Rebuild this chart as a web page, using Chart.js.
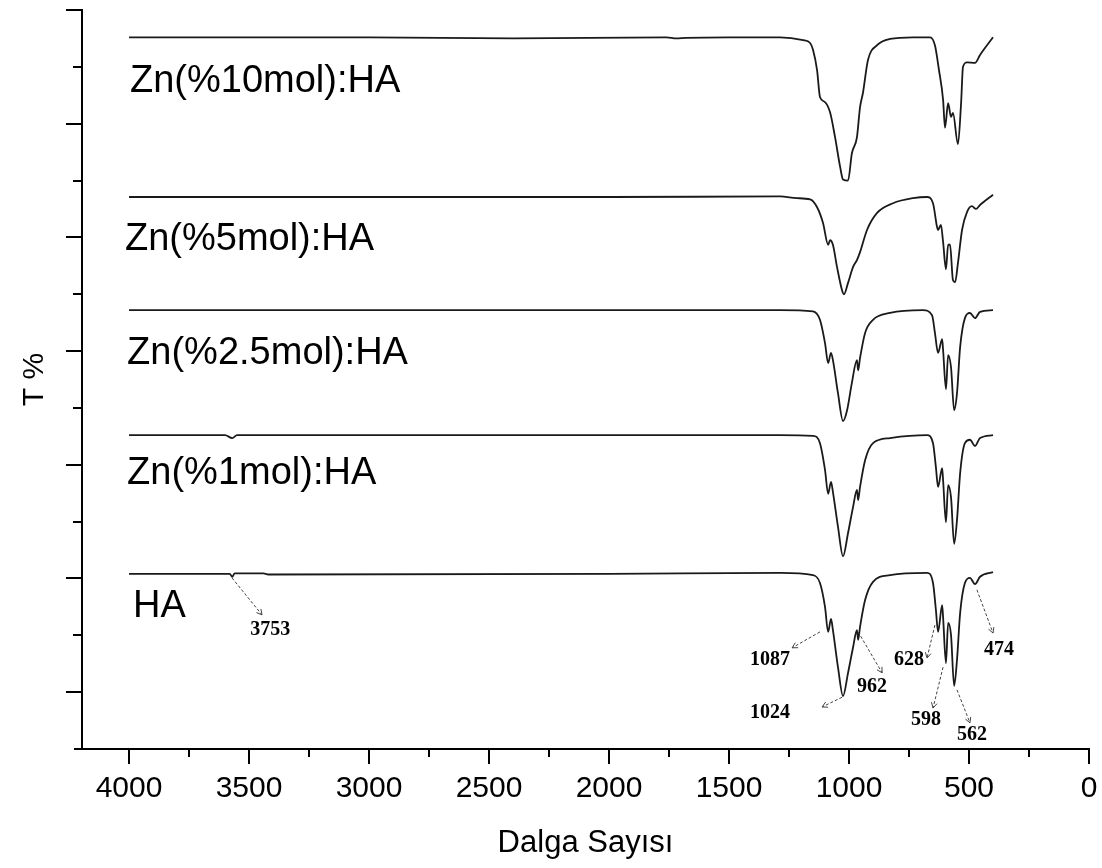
<!DOCTYPE html>
<html>
<head>
<meta charset="utf-8">
<script src="https://cdn.jsdelivr.net/npm/chart.js@4.4.0/dist/chart.umd.min.js"></script>
<style>
  html, body { margin: 0; padding: 0; background: #fff; }
  #wrap { width: 1102px; height: 868px; }
</style>
</head>
<body>
<div id="wrap"><canvas id="ftir" width="1102" height="868"></canvas></div>
<script>
// wavenumbers (cm-1) and transmittance (offset, arbitrary units)
const waveZn10 = [4000, 3000, 2400, 1760, 1720, 1680, 1500, 1287, 1191, 1162, 1150, 1133, 1121, 1100, 1079, 1058, 1037, 1025, 1004, 988, 967, 954, 942, 921, 883, 829, 733, 662, 642, 625, 608, 600, 587, 575, 567, 546, 533, 525, 508, 475, 454, 400];
const tZn10 = [125.2, 125.2, 125.0, 125.2, 125.0, 125.1, 125.2, 125.2, 124.7, 124.2, 123.0, 119.4, 114.7, 113.8, 112.0, 107.6, 102.4, 100.2, 100.0, 104.8, 107.6, 112.9, 115.4, 121.2, 123.8, 124.9, 125.2, 125.2, 123.8, 119.4, 114.2, 109.3, 113.6, 111.2, 111.9, 106.4, 113.6, 120.0, 120.8, 120.7, 122.1, 125.2];

const waveZn5 = [4000, 3000, 2000, 1287, 1217, 1162, 1133, 1108, 1087, 1079, 1067, 1050, 1029, 1021, 1004, 983, 967, 954, 925, 883, 817, 733, 675, 650, 633, 629, 617, 608, 596, 587, 579, 567, 558, 546, 529, 508, 488, 471, 454, 400];
const tZn5 = [97.1, 97.1, 97.1, 97.2, 96.9, 96.7, 95.3, 92.5, 88.7, 89.5, 88.7, 84.8, 80.7, 80.0, 82.0, 84.8, 86.0, 87.4, 91.3, 94.3, 96.0, 96.9, 97.1, 96.0, 91.8, 91.3, 92.2, 89.2, 84.4, 88.7, 88.7, 82.5, 82.1, 85.5, 91.3, 94.5, 95.5, 95.0, 95.7, 97.5];

const waveZn25 = [4000, 3000, 2000, 1287, 1150, 1121, 1100, 1087, 1075, 1067, 1046, 1025, 1008, 988, 967, 962, 954, 933, 900, 829, 692, 654, 642, 629, 612, 608, 596, 587, 575, 562, 550, 537, 517, 496, 475, 454, 400];
const tZn25 = [77.2, 77.2, 77.2, 77.2, 77.0, 75.5, 71.4, 67.9, 69.7, 68.4, 62.6, 57.7, 59.6, 64.4, 68.4, 66.6, 68.8, 73.2, 75.5, 76.7, 77.2, 76.3, 73.2, 69.7, 72.1, 70.2, 63.3, 69.3, 67.2, 59.6, 62.6, 70.7, 75.8, 76.7, 75.8, 76.9, 77.2];

const waveZn1 = [4000, 3600, 3570, 3550, 3000, 2000, 1287, 1150, 1121, 1100, 1087, 1075, 1067, 1046, 1025, 1004, 983, 967, 962, 954, 933, 900, 829, 675, 650, 638, 629, 612, 608, 596, 587, 575, 562, 550, 537, 517, 496, 475, 454, 400];
const tZn1 = [55.2, 55.2, 54.7, 55.2, 55.2, 55.2, 55.2, 55.1, 53.8, 49.1, 44.9, 47.0, 45.2, 39.1, 33.9, 38.0, 42.6, 45.6, 43.8, 46.1, 50.8, 53.8, 54.7, 55.2, 53.8, 49.6, 46.1, 49.4, 47.3, 39.9, 46.4, 44.3, 36.1, 40.3, 48.5, 53.8, 54.4, 53.3, 54.7, 55.2];

const waveHA = [4000, 3600, 3580, 3570, 3560, 3440, 3420, 2000, 1287, 1150, 1121, 1100, 1087, 1075, 1067, 1046, 1025, 1004, 983, 967, 962, 954, 933, 900, 829, 675, 650, 638, 629, 612, 608, 596, 587, 575, 562, 550, 537, 517, 496, 475, 454, 400];
const tHA = [30.8, 30.8, 30.8, 30.3, 30.9, 30.9, 30.7, 30.8, 31.0, 30.6, 29.2, 25.0, 20.6, 22.9, 20.9, 14.4, 9.3, 13.4, 17.9, 20.9, 19.2, 21.5, 26.2, 29.4, 30.6, 31.0, 29.2, 24.5, 20.6, 25.3, 23.2, 15.1, 22.2, 20.1, 11.1, 15.7, 23.9, 29.2, 30.1, 29.0, 30.3, 31.1];

const seriesNames = ['Zn(%10mol):HA', 'Zn(%5mol):HA', 'Zn(%2.5mol):HA', 'Zn(%1mol):HA', 'HA'];
const nameWave = [3996, 4017, 4008, 4008, 3983];
const nameT = [115.6, 87.8, 67.8, 46.6, 23.2];

const xMajorTicks = [4000, 3500, 3000, 2500, 2000, 1500, 1000, 500, 0];
const xMinorTicks = [3750, 3250, 2750, 2250, 1750, 1250, 750, 250];
const yMajorTicks = [10, 30, 50, 70, 90, 110, 130];
const yMinorTicks = [20, 40, 60, 80, 100, 120];

// peak marks on the HA curve: label, arrow from, arrow to, label centre
const peakText = ['3753', '1087', '1024', '962', '628', '598', '562', '474'];
const peakFromW = [3571, 1121, 1029, 962, 642, 608, 550, 467];
const peakFromT = [30.1, 20.6, 9.1, 20.6, 21.8, 14.4, 10.4, 28.0];
const peakToW = [3446, 1237, 1112, 862, 675, 650, 496, 400];
const peakToT = [23.6, 17.8, 7.4, 13.4, 16.0, 7.2, 4.6, 20.4];
const peakTextW = [3412, 1329, 1329, 904, 750, 679, 488, 375];
const peakTextT = [20.9, 15.7, 6.3, 10.9, 15.7, 5.1, 2.5, 17.4];

const toPoints = (w, t) => w.map((v, i) => ({ x: v, y: t[i] }));

const lineStyle = {
    borderColor: '#1a1a1a',
    borderWidth: 1.8,
    pointRadius: 0,
    showLine: true,
    fill: false,
    cubicInterpolationMode: 'monotone'
};

const axisTicks = {
    id: 'axisTicks',
    afterDraw(chart) {
        const { ctx, scales: { x, y } } = chart;
        ctx.save();
        ctx.strokeStyle = '#000';
        ctx.lineWidth = 2;
        ctx.beginPath();
        xMajorTicks.forEach(v => {
            const px = Math.round(x.getPixelForValue(v));
            ctx.moveTo(px, y.bottom);
            ctx.lineTo(px, y.bottom + 15);
        });
        xMinorTicks.forEach(v => {
            const px = Math.round(x.getPixelForValue(v));
            ctx.moveTo(px, y.bottom);
            ctx.lineTo(px, y.bottom + 8);
        });
        yMajorTicks.forEach(v => {
            const py = Math.round(y.getPixelForValue(v));
            ctx.moveTo(x.left, py);
            ctx.lineTo(x.left - 16, py);
        });
        yMinorTicks.forEach(v => {
            const py = Math.round(y.getPixelForValue(v));
            ctx.moveTo(x.left, py);
            ctx.lineTo(x.left - 9, py);
        });
        ctx.moveTo(x.left - 8, y.bottom);
        ctx.lineTo(x.left, y.bottom);
        ctx.stroke();
        ctx.restore();
    }
};

const labelsAndPeaks = {
    id: 'labelsAndPeaks',
    afterDatasetsDraw(chart) {
        const { ctx, scales: { x, y } } = chart;
        ctx.save();
        ctx.fillStyle = '#000';
        ctx.font = '38px "Liberation Sans", Arial, sans-serif';
        ctx.textAlign = 'left';
        ctx.textBaseline = 'alphabetic';
        seriesNames.forEach((name, i) => {
            ctx.fillText(name, x.getPixelForValue(nameWave[i]), y.getPixelForValue(nameT[i]));
        });

        ctx.strokeStyle = '#444';
        ctx.lineWidth = 1;
        peakText.forEach((txt, i) => {
            const x0 = x.getPixelForValue(peakFromW[i]), y0 = y.getPixelForValue(peakFromT[i]);
            const x1 = x.getPixelForValue(peakToW[i]), y1 = y.getPixelForValue(peakToT[i]);
            ctx.setLineDash([3, 2]);
            ctx.beginPath();
            ctx.moveTo(x0, y0);
            ctx.lineTo(x1, y1);
            ctx.stroke();
            // open arrow head
            const a = Math.atan2(y1 - y0, x1 - x0);
            ctx.setLineDash([]);
            ctx.beginPath();
            ctx.moveTo(x1 - 6 * Math.cos(a - 0.5), y1 - 6 * Math.sin(a - 0.5));
            ctx.lineTo(x1, y1);
            ctx.lineTo(x1 - 6 * Math.cos(a + 0.5), y1 - 6 * Math.sin(a + 0.5));
            ctx.stroke();
        });

        ctx.font = 'bold 20px "Liberation Serif", "Times New Roman", serif';
        ctx.textAlign = 'center';
        ctx.textBaseline = 'middle';
        peakText.forEach((txt, i) => {
            ctx.fillText(txt, x.getPixelForValue(peakTextW[i]), y.getPixelForValue(peakTextT[i]));
        });
        ctx.restore();
    }
};

new Chart(document.getElementById('ftir'), {
    type: 'scatter',
    data: {
        datasets: [
            { label: seriesNames[0], data: toPoints(waveZn10, tZn10), ...lineStyle },
            { label: seriesNames[1], data: toPoints(waveZn5, tZn5), ...lineStyle },
            { label: seriesNames[2], data: toPoints(waveZn25, tZn25), ...lineStyle },
            { label: seriesNames[3], data: toPoints(waveZn1, tZn1), ...lineStyle },
            { label: seriesNames[4], data: toPoints(waveHA, tHA), ...lineStyle }
        ]
    },
    options: {
        responsive: false,
        animation: false,
        layout: { padding: { left: 0, right: 13, top: 10, bottom: 0 } },
        plugins: {
            legend: { display: false },
            tooltip: { enabled: false }
        },
        scales: {
            x: {
                type: 'linear',
                reverse: true,
                min: 0,
                max: 4196,
                afterBuildTicks: scale => { scale.ticks = xMajorTicks.map(v => ({ value: v })); },
                afterFit: scale => {
                    scale.height = 119;
                    scale.paddingLeft = 0;
                    scale.paddingRight = 0;
                },
                grid: { display: false, drawTicks: false },
                border: { display: true, color: '#000', width: 2 },
                ticks: {
                    autoSkip: false,
                    maxRotation: 0,
                    padding: 22,
                    color: '#000',
                    callback: v => String(v),
                    font: { family: '"Liberation Sans", Arial, sans-serif', size: 30 }
                },
                title: {
                    display: true,
                    text: 'Dalga Sayısı',
                    color: '#000',
                    font: { family: '"Liberation Sans", Arial, sans-serif', size: 31 },
                    padding: { top: 0, bottom: 6 }
                }
            },
            y: {
                type: 'linear',
                min: 0,
                max: 130,
                afterFit: scale => { scale.width = 82; },
                grid: { display: false, drawTicks: false },
                border: { display: true, color: '#000', width: 2 },
                ticks: { display: false },
                title: {
                    display: true,
                    text: 'T %',
                    color: '#000',
                    font: { family: '"Liberation Sans", Arial, sans-serif', size: 30 },
                    padding: { top: 17, bottom: 0 }
                }
            }
        }
    },
    plugins: [axisTicks, labelsAndPeaks]
});
</script>
</body>
</html>
